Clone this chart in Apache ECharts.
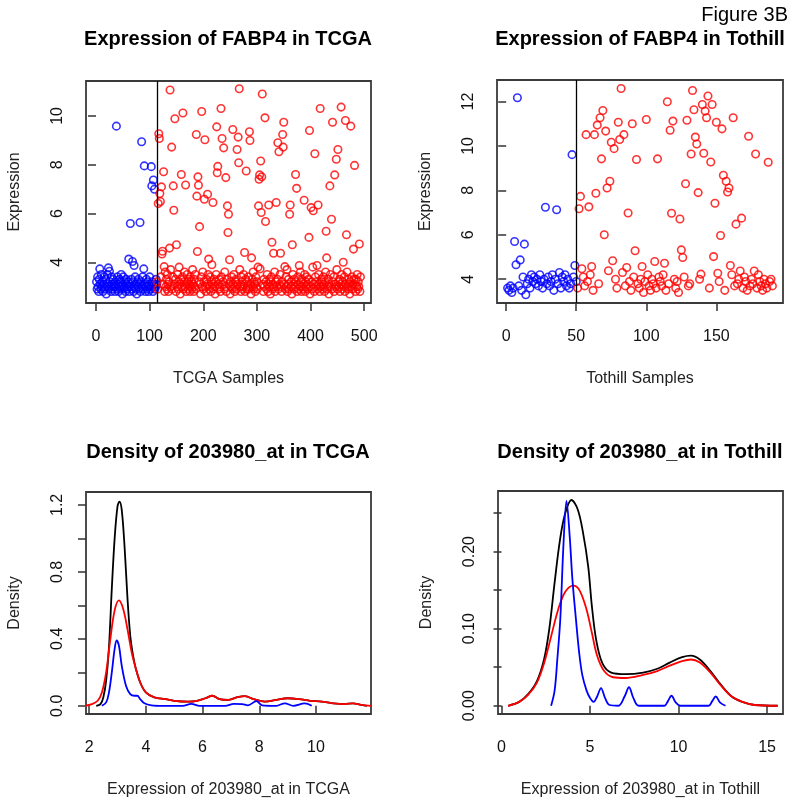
<!DOCTYPE html>
<html>
<head>
<meta charset="utf-8">
<script src="https://cdn.jsdelivr.net/npm/echarts@6/dist/echarts.min.js"></script>
<style>html,body{margin:0;padding:0;background:#fff;}#c{width:798px;height:806px;}</style>
</head>
<body>
<div id="c"></div>
<script>
// ---------- Panel A: Expression of FABP4 in TCGA ----------
const tcgaSplit = 113.5;
const tcgaNormal = [
3.2,2.9,3.4,3.0,2.8,3.3,3.73,3.1,2.9,3.5,
3.0,3.2,2.8,3.1,3.4,2.9,3.0,3.3,2.7,3.1,
3.5,3.0,3.77,2.9,3.63,3.2,3.0,2.8,3.4,3.1,
2.9,3.3,3.0,3.1,2.8,3.2,3.0,9.58,2.9,3.4,
3.1,2.8,3.0,3.3,2.9,3.2,3.5,3.0,2.7,3.1,
3.4,2.9,3.0,3.2,2.8,3.3,3.1,2.9,3.0,3.2,
4.13,2.8,3.1,5.59,3.0,3.3,2.9,4.03,3.2,2.8,
3.87,3.0,3.4,2.9,3.1,2.7,3.2,3.0,3.3,2.9,
3.1,5.63,2.8,3.2,8.94,3.0,3.4,2.9,3.73,7.95,
3.1,2.8,3.0,3.3,2.9,3.2,3.0,2.8,3.1,3.4,
2.9,3.0,7.92,7.13,3.2,2.8,7.37,3.1,6.99,2.9,3.0,3.3,3.1];
const tcgaTumorRange = [114, 493];
const tcgaTumorOutliers = [
[116,6.41],[117,9.27],[118,9.07],[119,6.82],[120,6.49],[122,7.09],[123,4.34],[124,4.45],[126,7.71],[127,3.82],
[137,4.58],[138,11.06],[141,8.72],[144,7.13],[145,6.13],[147,9.88],[150,4.72],[159,7.6],[162,10.12],[167,7.17],
[187,9.24],[188,6.71],[189,4.44],[190,7.5],[191,7.16],[193,5.46],[197,10.18],[202,6.58],[203,9.02],[208,6.79],
[210,4.13],[218,6.45],[225,9.55],[226,7.67],[227,7.93],[233,10.3],[235,9.07],[238,8.69],[242,7.47],[245,6.31],
[246,5.22],[247,5.97],[249,4.1],[255,9.44],[263,8.62],[265,9.13],[266,8.08],[267,11.11],[277,4.4],[280,7.74],
[286,9.35],[287,8.99],[290,4.18],[303,6.31],[304,7.4],[305,7.58],[306,3.73],[307,8.15],[308,6.04],[309,7.5],
[310,10.9],[315,9.92],[316,5.67],[322,6.35],[328,4.82],[331,4.37],[336,6.45],[339,8.9],[341,8.53],[344,4.37],
[348,9.24],[349,8.72],[350,9.74],[352,3.82],[361,5.97],[362,6.35],[366,4.72],[372,7.6],[374,7.03],[379,3.87],
[388,6.54],[397,5.02],[398,9.4],[401,6.24],[405,6.11],[408,8.45],[412,3.87],[414,6.35],[418,10.3],[429,5.27],
[430,4.18],[436,7.13],[439,5.76],[441,9.74],[445,7.58],[448,8.22],[451,8.62],[457,10.36],[461,4.0],[465,9.81],
[467,5.13],[475,9.58],[480,4.54],[482,7.97],[491,4.75]];
const tcgaTumorBand = [
3.2,2.9,3.4,3.1,2.8,3.6,3.0,3.3,2.9,3.5,3.1,2.8,3.2,3.7,3.0,2.9,3.4,3.1,3.3,2.8,
3.0,3.5,2.9,3.2,3.8,3.1,2.7,3.3,3.0,3.4,2.9,3.2,3.6,3.0,2.8,3.1,3.5,3.2,2.9,3.3,
3.1,2.8,3.4,3.0,3.2,2.9,3.7,3.1,2.8,3.3,3.0,3.5,2.9,3.2,3.1,2.7,3.4,3.0,3.6,2.9,
3.2,3.0,2.8,3.3,3.1,3.5,2.9,3.0,3.4,2.8,3.2,3.9,3.1,2.9,3.3,3.0,2.7,3.2,3.5,3.1,
2.9,3.3,3.0,2.8,3.4,3.1,3.2,2.9,3.6,3.0,2.8,3.3,3.1,2.7,3.2,3.0,3.4,2.9,3.1,3.5,
3.0,2.8,3.2,3.3,2.9,3.1,3.7,3.0,2.8,3.4,3.2,2.9,3.0,3.5,3.1,2.8,3.3,2.9,3.2,3.0,
3.4,2.9,3.1,2.7,3.3,3.0,3.6,2.9,3.2,3.1,2.8,3.4,3.0,3.2,2.9,3.8,3.1,2.8,3.3,3.0,
3.2,2.9,3.5,3.1,2.8,3.0,3.3,2.7,3.2,3.4,2.9,3.1,3.0,3.6,2.8,3.2,3.0,3.3,2.9,3.1,
3.5,3.0,2.8,3.2,3.1,2.9,3.4,3.0,3.7,2.8,3.1,3.3,2.9,3.0,3.2,2.7,3.5,3.1,2.9,3.3,
3.0,3.2,2.8,3.4,3.1,2.9,3.0,3.6,3.2,2.8,3.3,3.0,2.9,3.1,3.5,2.8,3.2,3.0,3.4,2.9,
3.1,3.3,2.7,3.0,3.2,2.9,3.8,3.1,2.8,3.4,3.0,3.2,2.9,3.5,3.1,2.8,3.0,3.3,3.2,2.9,
3.0,3.4,3.1,2.8,3.2,3.6,2.9,3.0,3.3,2.7,3.1,3.5,3.0,2.9,3.2,3.4,2.8,3.1,3.0,3.7,
2.9,3.2,3.0,3.3,2.8,3.1,3.5,2.9,3.2,3.0,3.4,2.8,3.1,3.6,3.0,2.9,3.3,3.1,2.7,3.2,
3.0,3.4,2.9,3.1,3.3,3.1,2.8,3.3,3.0,3.5,2.9,3.2,3.0,2.8,3.4];
const tcgaXTicks = [0,100,200,300,400,500];
const tcgaYTicks = [4,6,8,10];

// ---------- Panel B: Expression of FABP4 in Tothill ----------
const tothSplit = 50;
const tothNormal = [
3.6,3.5,3.7,3.4,3.6,5.7,4.65,12.17,3.7,4.87,
3.5,4.1,5.58,3.3,3.8,4.0,3.6,4.2,3.9,4.1,
3.8,4.0,3.7,4.2,3.9,3.6,4.0,7.24,3.8,4.1,
3.7,3.9,4.2,3.5,4.0,7.13,3.8,4.3,3.6,4.1,
3.9,4.2,3.7,4.0,3.6,3.8,9.61,4.1,4.62,3.9];
const tothTumorRange = [51, 190];
const tothTumorOutliers = [
[52,7.17],[53,7.73],[54,4.47],[57,10.51],[59,7.26],[61,4.57],[63,10.51],[64,7.87],[65,10.94],[67,11.27],
[68,9.42],[69,11.6],[70,6.0],[71,10.67],[72,8.11],[73,4.38],[74,8.41],[75,10.17],[76,4.83],[77,9.88],
[80,11.07],[81,10.29],[82,12.59],[84,10.51],[86,4.53],[87,6.98],[90,11.0],[92,5.28],[93,9.39],[97,4.57],
[100,11.19],[106,4.8],[108,9.42],[113,4.72],[115,11.99],[117,10.71],[118,6.97],[119,11.12],[124,6.71],[125,5.32],
[126,4.98],[128,8.3],[129,11.16],[132,9.64],[133,12.5],[134,11.63],[135,10.4],[136,10.09],[137,7.9],[139,4.23],
[140,11.87],[141,9.67],[142,11.57],[143,11.27],[144,12.25],[146,9.28],[147,11.87],[148,5.02],[149,7.42],[150,11.07],
[151,4.27],[153,5.97],[154,10.77],[155,8.68],[157,8.41],[158,7.93],[159,8.11],[160,4.62],[162,11.27],[164,6.48],
[167,4.37],[168,6.75],[173,10.44],[177,4.37],[178,9.64],[187,9.27]];
const tothTumorBand = [
3.6,4.1,3.7,3.9,4.2,3.5,3.8,4.0,3.6,4.3,3.7,3.9,3.5,4.1,3.8,3.6,4.0,3.4,3.9,4.2,
3.7,3.5,4.0,3.8,3.6,4.1,3.9,3.7,4.2,3.5,3.8,4.0,3.6,3.9,3.4,4.1,3.7,3.8,4.0,3.6,
3.9,3.5,4.2,3.7,3.8,4.0,3.6,4.1,3.9,3.5,3.7,4.0,3.8,3.6,4.2,3.9,3.7,3.5,4.0,3.8,
3.6,3.9,4.0,3.7];
const tothXTicks = [0,50,100,150];
const tothYTicks = [4,6,8,10,12];

// ---------- Panel C: Density of 203980_at in TCGA ----------
const tcgaDensAll = [[2.25,0],[2.4,0.01],[2.5,0.05],[2.6,0.15],[2.7,0.35],[2.8,0.7],[2.9,1.0],[3.0,1.19],[3.07,1.22],[3.15,1.17],[3.25,0.95],[3.35,0.65],[3.45,0.42],[3.55,0.3],[3.65,0.22],[3.8,0.14],[4.0,0.08],[4.3,0.05],[4.7,0.04],[5.0,0.03],[5.5,0.025],[5.8,0.03],[6.1,0.045],[6.35,0.06],[6.6,0.04],[6.9,0.035],[7.2,0.05],[7.5,0.058],[7.8,0.04],[8.2,0.025],[8.6,0.035],[9.0,0.045],[9.4,0.04],[9.8,0.03],[10.2,0.025],[10.6,0.015],[11.0,0.01],[11.3,0.015],[11.6,0.005],[11.8,0]];
const tcgaDensTumor = [[1.85,0],[2.1,0.01],[2.3,0.03],[2.45,0.08],[2.6,0.2],[2.75,0.4],[2.9,0.57],[3.05,0.63],[3.2,0.58],[3.35,0.46],[3.5,0.32],[3.65,0.22],[3.8,0.14],[4.0,0.08],[4.3,0.05],[4.7,0.04],[5.0,0.03],[5.5,0.025],[5.8,0.03],[6.1,0.045],[6.35,0.06],[6.6,0.04],[6.9,0.035],[7.2,0.05],[7.5,0.058],[7.8,0.04],[8.2,0.025],[8.6,0.035],[9.0,0.045],[9.4,0.04],[9.8,0.03],[10.2,0.025],[10.6,0.015],[11.0,0.01],[11.3,0.015],[11.6,0.005],[11.94,0]];
const tcgaDensNormal = [[2.45,0],[2.6,0.02],[2.7,0.08],[2.8,0.2],[2.9,0.34],[2.97,0.39],[3.05,0.36],[3.15,0.24],[3.3,0.12],[3.45,0.07],[3.6,0.06],[3.7,0.06],[3.8,0.04],[3.95,0.015],[4.2,0.003],[4.6,0],[5.3,0],[5.6,0.012],[5.9,0],[6.8,0],[7.1,0.012],[7.4,0.01],[7.6,0.003],[7.9,0.028],[8.1,0.003],[8.6,0],[8.9,0.015],[9.2,0],[9.6,0.014],[9.85,0]];
const tcgaDensXTicks = [2,4,6,8,10];
const tcgaDensYTicks = [0,0.2,0.4,0.6,0.8,1.0,1.2];
const tcgaDensYLabels = [0,0.4,0.8,1.2];

// ---------- Panel D: Density of 203980_at in Tothill ----------
const tothDensAll = [[0.37,0],[1.0,0.005],[1.5,0.015],[2.0,0.032],[2.4,0.06],[2.7,0.1],[3.0,0.16],[3.3,0.215],[3.6,0.25],[3.95,0.267],[4.3,0.255],[4.6,0.225],[4.9,0.18],[5.1,0.13],[5.35,0.085],[5.7,0.055],[6.2,0.043],[7.0,0.041],[8.0,0.043],[8.8,0.048],[9.5,0.056],[10.2,0.063],[10.7,0.065],[11.2,0.06],[11.8,0.045],[12.4,0.027],[13.0,0.012],[13.6,0.005],[14.3,0.001],[15.6,0]];
const tothDensTumor = [[0.37,0],[1.0,0.005],[1.5,0.014],[2.0,0.03],[2.4,0.055],[2.8,0.09],[3.2,0.125],[3.6,0.148],[4.05,0.156],[4.4,0.15],[4.8,0.125],[5.1,0.095],[5.4,0.065],[5.8,0.045],[6.3,0.037],[7.0,0.036],[8.0,0.04],[8.8,0.045],[9.5,0.052],[10.2,0.058],[10.7,0.06],[11.2,0.056],[11.8,0.043],[12.4,0.026],[13.0,0.012],[13.6,0.005],[14.3,0.001],[15.6,0]];
const tothDensNormal = [[2.8,0],[3.0,0.02],[3.15,0.06],[3.32,0.113],[3.5,0.21],[3.67,0.266],[3.85,0.22],[4.0,0.165],[4.2,0.113],[4.38,0.07],[4.56,0.04],[4.8,0.02],[5.0,0.01],[5.2,0.005],[5.4,0.012],[5.62,0.023],[5.85,0.01],[6.1,0.001],[6.6,0],[6.95,0.012],[7.2,0.024],[7.45,0.01],[7.75,0],[9.2,0],[9.4,0.006],[9.6,0.013],[9.85,0.004],[10.1,0],[11.7,0],[11.9,0.006],[12.1,0.012],[12.35,0.004],[12.65,0]];
const tothDensXTicks = [0,5,10,15];
const tothDensYTicks = [0,0.05,0.10,0.15,0.20,0.25];
const tothDensYLabels = [0,0.10,0.20];

// ---------- build ----------
function indexed(values, start) { return values.map((v, i) => [start + i, v]); }
function assemble(range, outliers, band) {
  const m = new Map(outliers); const out = []; let k = 0;
  for (let s = range[0]; s <= range[1]; s++) {
    if (m.has(s)) out.push([s, m.get(s)]);
    else if (k < band.length) out.push([s, band[k++]]);
  }
  return out;
}
const FONT = 'Liberation Sans, Arial, Helvetica, sans-serif';
const AX = '#333';
function xAxis(gi, min, max, ticks, name, fmt) {
  return { gridIndex: gi, type: 'value', min, max,
    axisLine: { show: false }, splitLine: { show: false },
    axisTick: { show: true, length: 8, lineStyle: { color: AX, width: 1.5 }, customValues: ticks },
    axisLabel: { customValues: ticks, margin: 26, fontSize: 16, color: '#111', fontFamily: FONT, formatter: fmt },
    name, nameLocation: 'middle', nameGap: 68,
    nameTextStyle: { fontSize: 16, color: '#222', fontFamily: FONT } };
}
function yAxis(gi, min, max, ticks, labels, name, fmt) {
  return { gridIndex: gi, type: 'value', min, max,
    axisLine: { show: false }, splitLine: { show: false },
    axisTick: { show: true, length: 8, lineStyle: { color: AX, width: 1.5 }, customValues: ticks },
    axisLabel: { customValues: labels, rotate: 90, margin: 20, fontSize: 16, color: '#111', fontFamily: FONT, formatter: fmt },
    name, nameLocation: 'middle', nameGap: 63,
    nameTextStyle: { fontSize: 16, color: '#222', fontFamily: FONT } };
}
function scatter(gi, data, color, split) {
  const s = { type: 'scatter', xAxisIndex: gi, yAxisIndex: gi, data, symbol: 'circle', symbolSize: 7.5,
    itemStyle: { color: 'rgba(255,255,255,0)', borderColor: color, borderWidth: 1.6 }, silent: true };
  if (split !== undefined) s.markLine = { silent: true, symbol: ['none', 'none'], label: { show: false },
    lineStyle: { color: '#000', width: 1.3, type: 'solid' }, data: [{ xAxis: split }] };
  return s;
}
function line(gi, data, color) {
  return { type: 'line', xAxisIndex: gi, yAxisIndex: gi, data, showSymbol: false, smooth: 0.35,
    lineStyle: { color, width: 1.8 }, silent: true };
}
const gridStyle = { show: true, borderColor: '#3a3a3a', borderWidth: 1.8, backgroundColor: 'transparent' };
const titleStyle = { fontSize: 20, fontWeight: 'bold', color: '#000', fontFamily: FONT };

const option = {
  animation: false,
  title: [
    { text: 'Figure 3B', right: 10, top: 5, padding: 0, textStyle: { fontSize: 20, fontWeight: 'normal', color: '#000', fontFamily: FONT } },
    { text: 'Expression of FABP4 in TCGA', left: 228, top: 29, padding: 0, textAlign: 'center', textStyle: titleStyle },
    { text: 'Expression of FABP4 in Tothill', left: 640, top: 29, padding: 0, textAlign: 'center', textStyle: titleStyle },
    { text: 'Density of 203980_at in TCGA', left: 228, top: 442, padding: 0, textAlign: 'center', textStyle: titleStyle },
    { text: 'Density of 203980_at in Tothill', left: 640, top: 442, padding: 0, textAlign: 'center', textStyle: titleStyle }
  ],
  grid: [
    Object.assign({ left: 86, top: 81, width: 285, height: 222 }, gridStyle),
    Object.assign({ left: 497, top: 80, width: 286, height: 223 }, gridStyle),
    Object.assign({ left: 86, top: 492, width: 285, height: 222 }, gridStyle),
    Object.assign({ left: 498, top: 491, width: 285, height: 223 }, gridStyle)
  ],
  xAxis: [
    xAxis(0, -18.7, 512.7, tcgaXTicks, 'TCGA Samples'),
    xAxis(1, -6.56, 197.56, tothXTicks, 'Tothill Samples'),
    xAxis(2, 1.89, 11.94, tcgaDensXTicks, 'Expression of 203980_at in TCGA'),
    xAxis(3, -0.2, 15.9, tothDensXTicks, 'Expression of 203980_at in Tothill')
  ],
  yAxis: [
    yAxis(0, 2.33, 11.43, tcgaYTicks, tcgaYTicks, 'Expression'),
    yAxis(1, 2.93, 12.97, tothYTicks, tothYTicks, 'Expression'),
    yAxis(2, -0.049, 1.277, tcgaDensYTicks, tcgaDensYLabels, 'Density', v => (+v).toFixed(1)),
    yAxis(3, -0.0107, 0.2787, tothDensYTicks, tothDensYLabels, 'Density', v => (+v).toFixed(2))
  ],
  series: [
    scatter(0, indexed(tcgaNormal, 1), '#0000ff'),
    scatter(0, assemble(tcgaTumorRange, tcgaTumorOutliers, tcgaTumorBand), '#ff0000', tcgaSplit),
    scatter(1, indexed(tothNormal, 1), '#0000ff'),
    scatter(1, assemble(tothTumorRange, tothTumorOutliers, tothTumorBand), '#ff0000', tothSplit),
    line(2, tcgaDensAll, '#000000'),
    line(2, tcgaDensTumor, '#ff0000'),
    line(2, tcgaDensNormal, '#0000ff'),
    line(3, tothDensAll, '#000000'),
    line(3, tothDensTumor, '#ff0000'),
    line(3, tothDensNormal, '#0000ff')
  ]
};
const chart = echarts.init(document.getElementById('c'), null, { renderer: 'canvas' });
chart.setOption(option);
</script>
</body>
</html>
